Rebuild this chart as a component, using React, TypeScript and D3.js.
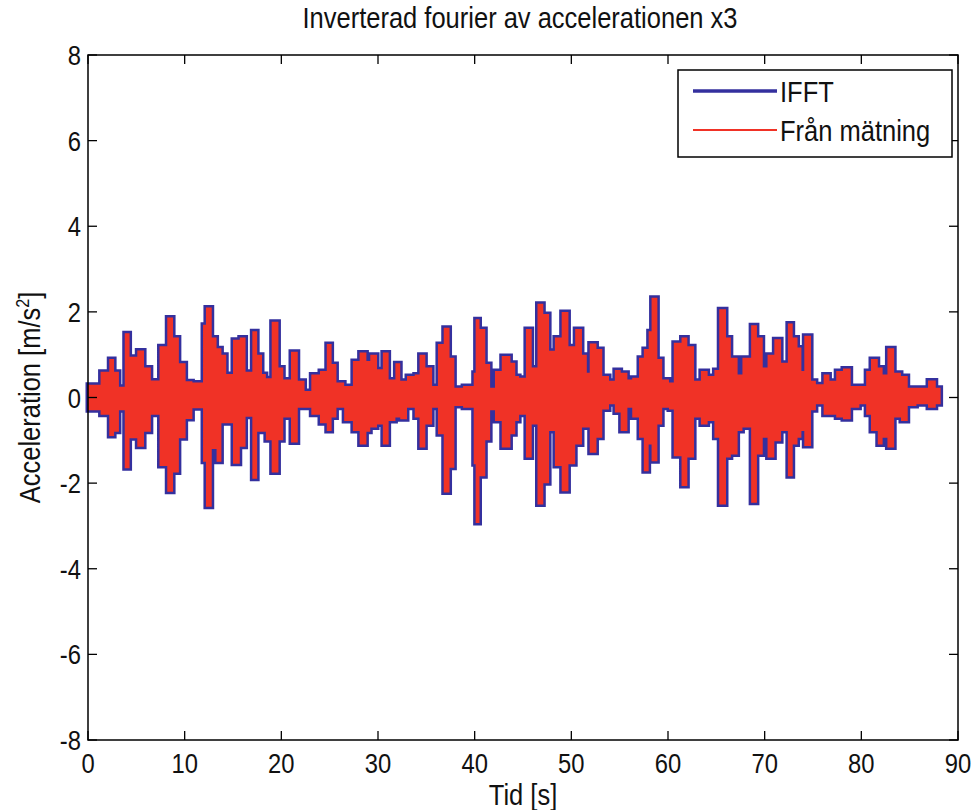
import React, { useEffect, useRef } from "react";
import * as d3 from "d3";

// step start times [s] of the signal envelope
const segStart = [
  0, 1.3, 2.2, 2.7, 3.2, 3.8, 4.3, 5.1, 5.8, 6.5, 7.4, 8.2, 8.8, 9.4, 10.1, 10.8, 11.9, 12.2, 12.8, 13.3, 13.8, 14.3,
  15.0, 15.7, 16.3, 17.0, 17.5, 18.0, 18.4, 19.0, 19.7, 20.2, 21.0, 21.7, 22.4, 23.1, 24.0, 24.7, 25.2, 25.7, 26.5,
  27.4, 28.1, 28.8, 29.2, 29.9, 30.5, 31.1, 31.8, 32.3, 33.0, 33.8, 34.3, 34.9, 35.6, 36.2, 36.8, 37.4, 37.9, 38.8,
  39.9, 40.1, 40.5, 41.1, 41.6, 42.1, 42.8, 43.7, 44.2, 44.6, 45.3, 45.9, 46.5, 47.1, 47.7, 48.3, 49.0, 49.7, 50.4,
  51.1, 51.6, 51.9, 52.6, 53.2, 53.9, 54.5, 55.1, 55.8, 56.3, 57.0, 57.5, 58.0, 58.3, 58.9, 59.4, 60.1, 60.6, 61.4,
  62.0, 62.7, 63.4, 64.1, 64.8, 65.3, 66.0, 66.5, 67.2, 67.7, 68.6, 69.2, 69.8, 70.3, 71.0, 71.7, 72.4, 72.9, 73.4,
  73.8, 74.1, 74.8, 75.3, 76.1, 76.7, 77.4, 78.1, 78.9, 79.8, 80.5, 81.0, 81.7, 82.2, 82.7, 83.4, 84.1, 84.8, 85.7,
  86.9, 87.7, 88.2,
];

// upper envelope [m/s^2]
const upper = [
  0.3, 0.6, 0.9, 0.6, 0.25, 1.5, 0.95, 1.1, 0.7, 0.4, 1.2, 1.87, 1.4, 0.8, 0.38, 0.35, 1.7, 2.1, 1.4, 1.15, 1.0, 0.55,
  1.35, 1.4, 0.6, 1.55, 1.0, 0.55, 0.45, 1.77, 0.7, 0.42, 1.07, 0.39, 0.15, 0.54, 0.62, 1.25, 0.78, 0.35, 0.27,
  0.85, 1.05, 0.85, 1.0, 0.66, 1.05, 0.42, 0.8, 0.39, 0.5, 0.54, 1.0, 0.7, 0.27, 1.25, 1.63, 0.93, 0.23, 0.27,
  0.58, 1.83, 1.6, 0.78, 0.23, 0.62, 0.97, 0.81, 0.5, 0.46, 1.6, 0.7, 2.19, 1.95, 1.09, 1.4, 2.0, 1.2, 1.6,
  1.0, 0.58, 1.26, 1.13, 0.5, 0.39, 0.64, 0.58, 0.42, 0.46, 0.93, 1.13, 1.55, 2.33, 0.9, 0.42, 0.35, 1.28, 1.4,
  1.2, 0.39, 0.62, 0.5, 0.64, 2.06, 1.4, 0.93, 0.54, 0.93, 1.69, 1.4, 0.7, 1.0, 1.36, 0.81, 1.73, 1.4, 1.17,
  0.62, 1.44, 0.39, 0.31, 0.54, 0.39, 0.62, 0.68, 0.27, 0.27, 0.62, 0.9, 0.7, 0.54, 1.15, 0.58, 0.5, 0.23, 0.23,
  0.4, 0.23, 0.23,
];

// lower envelope [m/s^2]
const lower = [
  -0.3, -0.4, -0.9, -0.8, -0.3, -1.65, -0.95, -1.15, -0.8, -0.4, -1.6, -2.2, -1.75, -0.95, -0.5, -0.25, -1.5, -2.55, -1.2, -1.5, -0.6, -0.6,
  -1.55, -1.15, -0.45, -1.9, -0.8, -0.8, -1.0, -1.75, -1.0, -0.47, -1.05, -0.24, -0.24, -0.4, -0.6, -0.78, -0.47, -0.24, -0.55,
  -0.78, -1.1, -0.8, -0.7, -0.63, -1.1, -0.55, -0.47, -0.51, -0.24, -0.47, -1.17, -0.63, -0.24, -0.86, -2.22, -1.64, -0.2, -0.24,
  -1.56, -2.93, -1.84, -1.0, -0.3, -0.55, -1.17, -0.86, -0.55, -0.4, -1.4, -0.63, -2.5, -2.0, -0.78, -1.6, -2.19, -1.56, -1.1,
  -0.7, -0.7, -1.29, -0.94, -0.28, -0.16, -0.35, -0.78, -0.24, -0.47, -0.94, -1.72, -1.1, -1.49, -0.63, -0.24, -0.28, -1.37, -2.07,
  -1.4, -0.47, -0.63, -0.55, -0.94, -2.5, -1.4, -1.33, -0.78, -0.7, -2.46, -1.33, -0.94, -1.4, -1.02, -0.78, -1.84, -1.1, -0.94,
  -0.78, -1.13, -0.3, -0.16, -0.4, -0.4, -0.47, -0.51, -0.24, -0.16, -0.4, -0.78, -1.1, -0.94, -1.17, -0.47, -0.55, -0.2, -0.16,
  -0.24, -0.16, -0.16,
];

const xTicks = [0, 10, 20, 30, 40, 50, 60, 70, 80, 90];
const yTicks = [-8, -6, -4, -2, 0, 2, 4, 6, 8];
const seriesNames = ["IFFT", "Från mätning"];

const FONT = "'Liberation Sans', Arial, sans-serif";
const SX = 0.85; // the original font is narrow
const BLUE = "#34309e";
const RED = "#f03226";

// text squeezed horizontally around its anchor
const label = (sel, x, y, txt, size, anchor = "middle") =>
  sel
    .append("text")
    .attr("transform", `translate(${x}, ${y}) scale(${SX}, 1)`)
    .attr("text-anchor", anchor)
    .attr("font-family", FONT)
    .attr("font-size", size)
    .attr("fill", "#111")
    .text(txt);

const App = () => {
  const svgRef = useRef();

  useEffect(() => {
    const svg = d3.select(svgRef.current);
    svg.selectAll("*").remove();

    const left = 88, right = 958, top = 55, bottom = 740;
    const x = d3.scaleLinear().domain([0, 90]).range([left, right]);
    const y = d3.scaleLinear().domain([-8, 8]).range([bottom, top]);

    const data = segStart.map((t, i) => ({ t, hi: upper[i], lo: lower[i] }));

    const area = d3
      .area()
      .x((d) => x(d.t))
      .y0((d) => y(d.lo))
      .y1((d) => y(d.hi))
      .curve(d3.curveStepAfter);

    const g = svg.append("g");

    // IFFT (blue), slightly wider outline
    g.append("path")
      .attr("d", area(data))
      .attr("fill", BLUE)
      .attr("stroke", BLUE)
      .attr("stroke-width", 5)
      .attr("stroke-linejoin", "miter");

    // measurement (red) on top
    g.append("path")
      .attr("d", area(data))
      .attr("fill", RED)
      .attr("stroke", "none");

    // box
    svg.append("rect")
      .attr("x", left)
      .attr("y", top)
      .attr("width", right - left)
      .attr("height", bottom - top)
      .attr("fill", "none")
      .attr("stroke", "#000")
      .attr("stroke-width", 1.5);

    const tl = 9;
    xTicks.forEach((v) => {
      svg.append("line").attr("x1", x(v)).attr("x2", x(v)).attr("y1", bottom).attr("y2", bottom - tl)
        .attr("stroke", "#000").attr("stroke-width", 1.3);
      svg.append("line").attr("x1", x(v)).attr("x2", x(v)).attr("y1", top).attr("y2", top + tl)
        .attr("stroke", "#000").attr("stroke-width", 1.3);
      label(svg, x(v), bottom + 33, v, 28);
    });
    yTicks.forEach((v) => {
      svg.append("line").attr("x1", left).attr("x2", left + tl).attr("y1", y(v)).attr("y2", y(v))
        .attr("stroke", "#000").attr("stroke-width", 1.3);
      svg.append("line").attr("x1", right).attr("x2", right - tl).attr("y1", y(v)).attr("y2", y(v))
        .attr("stroke", "#000").attr("stroke-width", 1.3);
      label(svg, left - 7, y(v) + 10, v, 28, "end");
    });

    // title and labels
    label(svg, 520, 28, "Inverterad fourier av accelerationen x3", 30);
    label(svg, 523, 805, "Tid [s]", 30);
    const yl = svg.append("text")
      .attr("transform", `translate(40, ${(top + bottom) / 2}) rotate(-90) scale(${SX}, 1)`)
      .attr("text-anchor", "middle").attr("font-family", FONT).attr("font-size", 30)
      .attr("fill", "#111");
    yl.append("tspan").text("Acceleration [m/s");
    yl.append("tspan").attr("font-size", 19).attr("dy", -11).text("2");
    yl.append("tspan").attr("dy", 11).text("]");

    // legend
    const lg = svg.append("g");
    lg.append("rect").attr("x", 678).attr("y", 70).attr("width", 274).attr("height", 87)
      .attr("fill", "#fff").attr("stroke", "#000").attr("stroke-width", 1.5);
    const colors = [BLUE, RED];
    const widths = [3.5, 1.8];
    seriesNames.forEach((name, i) => {
      const ly = 91 + i * 39;
      lg.append("line").attr("x1", 693).attr("x2", 777).attr("y1", ly).attr("y2", ly)
        .attr("stroke", colors[i]).attr("stroke-width", widths[i]);
      label(lg, 780, ly + 11, name, 30, "start");
    });
  }, []);

  return (
    <svg
      ref={svgRef}
      width={976}
      height={810}
      style={{ position: "absolute", left: 0, top: 0, background: "#fff" }}
    ></svg>
  );
};

export default App;
